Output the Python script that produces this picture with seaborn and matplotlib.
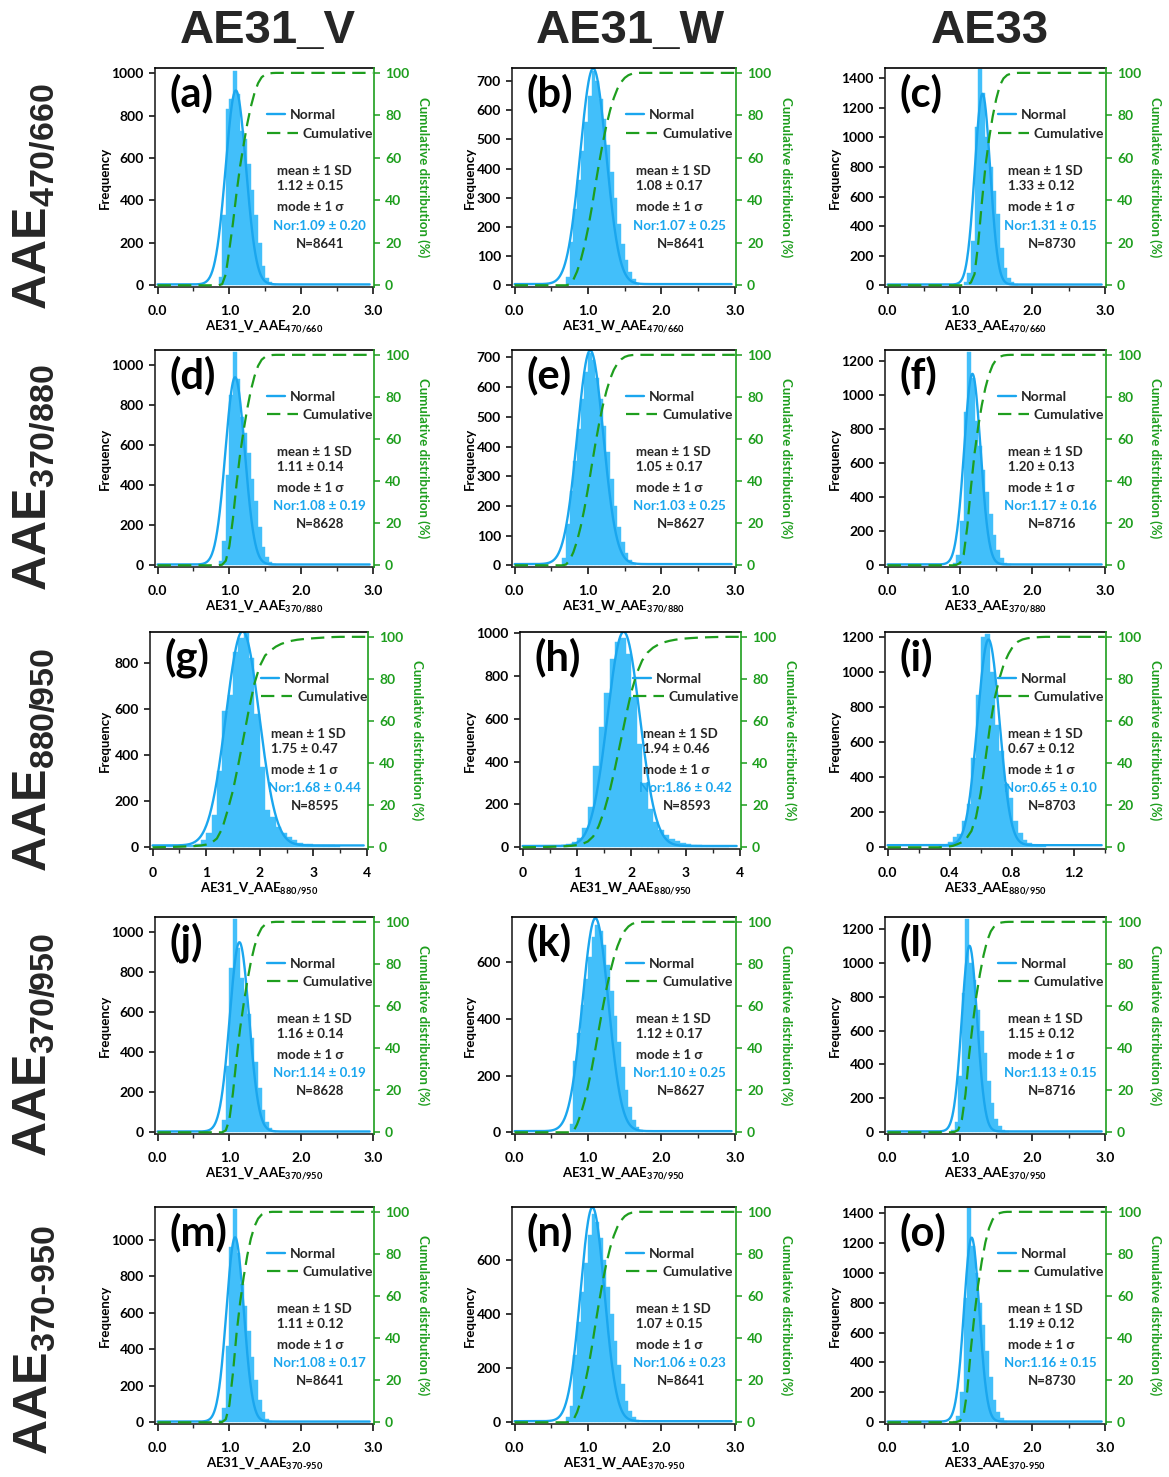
import numpy as np
import pandas as pd
import matplotlib
matplotlib.use('Agg')
import matplotlib.pyplot as plt
from matplotlib.ticker import MultipleLocator, FormatStrFormatter
import seaborn as sns

sns.set_theme(style='ticks')
plt.rcParams['font.family'] = ['Lato', 'DejaVu Sans']
plt.rcParams['font.weight'] = 'bold'
plt.rcParams['mathtext.fontset'] = 'custom'
plt.rcParams['mathtext.rm'] = 'Lato:bold'
plt.rcParams['mathtext.bf'] = 'Lato:bold'
plt.rcParams['mathtext.sf'] = 'Liberation Sans:bold'

# ---------------- data ----------------
letters = list('abcdefghijklmno')
col_titles = ['AE31_V', 'AE31_W', 'AE33']
row_subs = ['470/660', '370/880', '880/950', '370/950', '370-950']
x_prefix = ['AE31_V_AAE', 'AE31_W_AAE', 'AE33_AAE']

bin_start = [0.85, 0.70, 1.05, 0.85, 0.65, 0.90, 0.0, 0.0, 0.33, 0.90, 0.75, 0.875, 0.85, 0.70, 0.90]
bin_width = [0.05, 0.05, 0.05, 0.05, 0.05, 0.05, 0.1, 0.1, 0.03, 0.05, 0.05, 0.05, 0.05, 0.05, 0.05]

counts_a = [40, 330, 830, 880, 1010, 900, 730, 690, 570, 450, 330, 200, 90, 35, 15, 5]
counts_b = [30, 150, 260, 360, 460, 560, 650, 735, 700, 640, 570, 480, 390, 300, 210, 140, 85, 45, 20, 8]
counts_c = [20, 80, 300, 1070, 1460, 1300, 1000, 800, 640, 480, 250, 120, 50, 20, 8]
counts_d = [20, 120, 450, 850, 1065, 930, 740, 660, 560, 430, 320, 190, 90, 40, 15, 5]
counts_e = [25, 140, 250, 350, 460, 560, 650, 715, 690, 630, 560, 470, 380, 290, 200, 130, 80, 40, 18, 7]
counts_f = [15, 60, 260, 900, 1255, 1100, 850, 700, 560, 430, 300, 180, 90, 40, 15, 5]
counts_g = [3, 3, 4, 5, 5, 6, 8, 10, 15, 30, 60, 140, 330, 590, 660, 850, 910, 930, 820, 580,
            350, 160, 130, 90, 60, 45, 32, 20, 15, 14, 12, 12, 10, 8, 5]
counts_h = [3, 3, 3, 4, 5, 6, 8, 10, 15, 25, 45, 90, 190, 380, 560, 720, 880, 960, 975, 900,
            700, 480, 300, 180, 120, 80, 55, 40, 30, 20, 15, 12, 10, 8, 6, 5, 3, 2]
counts_i = [8, 15, 30, 60, 75, 150, 250, 510, 870, 1200, 1220, 1000, 700, 550, 360, 280, 150, 80, 40, 22, 15, 10, 6]
counts_j = [60, 330, 820, 1065, 920, 770, 690, 590, 470, 350, 220, 110, 50, 20, 8]
counts_k = [30, 250, 350, 450, 540, 620, 690, 730, 710, 660, 590, 500, 410, 320, 230, 150, 90, 45, 20, 8]
counts_l = [15, 60, 330, 820, 1260, 1000, 900, 720, 600, 470, 300, 170, 80, 35, 15, 5]
counts_m = [10, 80, 420, 960, 1170, 930, 760, 640, 500, 360, 230, 120, 55, 20, 8]
counts_n = [20, 60, 250, 370, 480, 590, 690, 770, 740, 680, 600, 500, 400, 300, 210, 140, 80, 40, 18, 7]
counts_o = [10, 40, 200, 830, 1430, 1180, 1000, 800, 650, 480, 300, 150, 70, 30, 10]
all_counts = [counts_a, counts_b, counts_c, counts_d, counts_e, counts_f, counts_g, counts_h,
              counts_i, counts_j, counts_k, counts_l, counts_m, counts_n, counts_o]

mean_vals = ['1.12', '1.08', '1.33', '1.11', '1.05', '1.20', '1.75', '1.94', '0.67', '1.16', '1.12', '1.15', '1.11', '1.07', '1.19']
sd_vals = ['0.15', '0.17', '0.12', '0.14', '0.17', '0.13', '0.47', '0.46', '0.12', '0.14', '0.17', '0.12', '0.12', '0.15', '0.12']
nor_mu = [1.09, 1.07, 1.31, 1.08, 1.03, 1.17, 1.68, 1.86, 0.65, 1.14, 1.10, 1.13, 1.08, 1.06, 1.16]
nor_w = [0.20, 0.25, 0.15, 0.19, 0.25, 0.16, 0.44, 0.42, 0.10, 0.19, 0.25, 0.15, 0.17, 0.23, 0.15]
n_vals = [8641, 8641, 8730, 8628, 8627, 8716, 8595, 8593, 8703, 8628, 8627, 8716, 8641, 8641, 8730]
norm_peak = [915, 740, 1290, 935, 720, 1120, 930, 1000, 1175, 945, 752, 1095, 1010, 790, 1230]
norm_base = [4, 4, 5, 4, 4, 5, 8, 6, 12, 4, 4, 5, 4, 4, 5]

y_top = [1025, 745, 1470, 1075, 725, 1265, 935, 1005, 1230, 1075, 760, 1270, 1180, 795, 1440]
y_step = [200, 100, 200, 200, 100, 200, 200, 200, 200, 200, 200, 200, 200, 200, 200]
x_max = [3, 3, 3, 3, 3, 3, 4, 4, 1.4, 3, 3, 3, 3, 3, 3]
x_major = [1, 1, 1, 1, 1, 1, 1, 1, 0.4, 1, 1, 1, 1, 1, 1]
x_minor = [0.5, 0.5, 0.5, 0.5, 0.5, 0.5, 0.5, 0.5, 0.2, 0.5, 0.5, 0.5, 0.5, 0.5, 0.5]
x_fmt = ['%.1f'] * 6 + ['%d', '%d', '%.1f'] + ['%.1f'] * 6

# ---------------- style ----------------
BAR = '#42BFFA'
NORM = '#1AA6EE'
GREEN = '#1E9E1E'
NOR_TXT = '#1AA6EE'
DASH = (0, (6, 3.2))

W, H = 1169, 1477
fig = plt.figure(figsize=(W / 100, H / 100), dpi=100)

row_tb = [(68, 287), (350, 567), (632, 849), (917, 1134), (1207, 1424)]
col_lr = [(155, 374), (512, 736), (885, 1106)]
col_lr_row3 = [(150, 368), (520, 741), (885, 1106)]
freq_px = [111, 476, 841]


def rect(l, t, r, b):
    return [l / W, 1 - b / H, (r - l) / W, (b - t) / H]


def sub_tex(s, cmd):
    parts = s.split('-')
    return r'\text{-}'.join(r'\%s{%s}' % (cmd, p) for p in parts)


for idx in range(15):
    r, c = divmod(idx, 3)
    t, b = row_tb[r]
    l, rr = (col_lr_row3 if r == 2 else col_lr)[c]
    ax = fig.add_axes(rect(l, t, rr, b))
    ax2 = ax.twinx()

    cnts = np.array(all_counts[idx], dtype=float)
    edges = bin_start[idx] + bin_width[idx] * np.arange(len(cnts) + 1)
    centers = 0.5 * (edges[:-1] + edges[1:])
    hist_df = pd.DataFrame({'value': centers, 'count': cnts})

    sns.histplot(data=hist_df, x='value', weights='count', bins=[float(e) for e in edges], ax=ax,
                 color=BAR, alpha=1.0, edgecolor=BAR, linewidth=0.3, legend=False)

    xm = x_max[idx]
    xs = np.linspace(0, xm * 0.985, 500)
    ys = norm_base[idx] + norm_peak[idx] * np.exp(-((xs - nor_mu[idx]) / nor_w[idx]) ** 2)
    sns.lineplot(x=xs, y=ys, ax=ax, color=NORM, linewidth=1.7, estimator=None, legend=False)

    cum = np.concatenate([[0.0, 0.0], np.cumsum(cnts) / cnts.sum() * 100, [100.0]])
    cx = np.concatenate([[0.0], edges, [xm]])
    sns.lineplot(x=cx, y=cum, ax=ax2, color=GREEN, linewidth=1.6, estimator=None, sort=False,
                 linestyle=DASH, legend=False)

    ax.set_xlim(-0.012 * xm, xm * 1.005)
    ax.set_ylim(-0.008 * y_top[idx], y_top[idx])
    ax2.set_ylim(-0.8, 102.3)

    ax.xaxis.set_major_locator(MultipleLocator(x_major[idx]))
    ax.xaxis.set_minor_locator(MultipleLocator(x_minor[idx]))
    ax.xaxis.set_major_formatter(FormatStrFormatter(x_fmt[idx]))
    ax.yaxis.set_major_locator(MultipleLocator(y_step[idx]))
    ax2.yaxis.set_major_locator(MultipleLocator(20))

    for a in (ax, ax2):
        for s in a.spines.values():
            s.set_linewidth(1.2)
    ax.spines['right'].set_visible(False)
    ax.spines['top'].set_color('black')
    ax2.spines['right'].set_color(GREEN)
    ax2.spines['left'].set_visible(False)
    ax2.spines['top'].set_visible(False)
    ax2.spines['bottom'].set_visible(False)

    ax.tick_params(axis='y', which='major', direction='out', length=4, width=1.1,
                   labelsize=10, pad=4, colors='black')
    ax.tick_params(axis='x', which='major', direction='out', length=5, width=1.1,
                   labelsize=10, pad=8, colors='black')
    ax.tick_params(axis='x', which='minor', direction='out', length=3, width=1.0)
    ax.tick_params(axis='x', top=False)
    ax2.tick_params(axis='y', direction='out', length=4, width=1.1, labelsize=10,
                    colors=GREEN, pad=4)
    for lab in ax.get_xticklabels() + ax.get_yticklabels() + ax2.get_yticklabels():
        lab.set_fontweight('bold')

    ax.set_ylabel('Frequency', fontsize=9.5, fontweight='bold', color='black')
    ax.yaxis.set_label_coords((freq_px[c] - l) / (rr - l), 0.5)
    ax2.set_ylabel('Cumulative distribution (%)', fontsize=9.5, fontweight='bold',
                   color=GREEN, rotation=270, va='center')
    ax2.yaxis.set_label_coords(1.225, 0.5)
    ax.set_xlabel(x_prefix[c] + r'$_{' + sub_tex(row_subs[r], 'mathbf') + '}$', fontsize=9.5,
                  fontweight='bold', color='black')
    ax.xaxis.set_label_coords(0.5, -0.145)

    ax.text(0.065, 0.882, '(' + letters[idx] + ')', transform=ax.transAxes, fontsize=30,
            fontweight='bold', va='center', ha='left', color='black')

    h1 = ax.get_lines()[0]
    h2 = ax2.get_lines()[0]
    leg1 = ax2.legend([h1], ['Normal'], loc='center left', bbox_to_anchor=(0.51, 0.785),
                      frameon=False, fontsize=10, handlelength=1.3, handletextpad=0.35,
                      borderpad=0, borderaxespad=0)
    ax2.add_artist(leg1)
    ax2.legend([h2], ['Cumulative'], loc='center left', bbox_to_anchor=(0.51, 0.70),
               frameon=False, fontsize=10, handlelength=2.25, handletextpad=0.35,
               borderpad=0, borderaxespad=0)

    ax2.text(0.555, 0.53, 'mean \u00b1 1 SD', transform=ax.transAxes, fontsize=9.5, va='center', ha='left')
    ax2.text(0.555, 0.46, mean_vals[idx] + ' \u00b1 ' + sd_vals[idx], transform=ax.transAxes,
             fontsize=9.5, va='center', ha='left')
    ax2.text(0.555, 0.365, 'mode \u00b1 1 \u03c3', transform=ax.transAxes, fontsize=9.5, va='center', ha='left')
    ax2.text(0.54, 0.28, 'Nor:%.2f \u00b1 %.2f' % (nor_mu[idx], nor_w[idx]), transform=ax.transAxes,
             fontsize=9.5, va='center', ha='left', color=NOR_TXT)
    ax2.text(0.645, 0.196, 'N=%d' % n_vals[idx], transform=ax.transAxes, fontsize=9.5,
             va='center', ha='left')

# column titles
for c, (cx_px, title) in enumerate(zip([268, 630, 990], col_titles)):
    fig.text(cx_px / W, 1 - 31 / H, title, fontsize=34, fontweight='bold',
             family=['Liberation Sans', 'DejaVu Sans'], ha='center', va='center')

# row labels
for r, yc in enumerate([197, 478, 760, 1045, 1340]):
    fig.text(35 / W, 1 - yc / H, 'AAE' + r'$_{' + sub_tex(row_subs[r], 'mathsf') + '}$', fontsize=35,
             fontweight='bold', family=['Liberation Sans', 'DejaVu Sans'], rotation=90,
             ha='center', va='center')

fig.savefig('out.png', dpi=100)
